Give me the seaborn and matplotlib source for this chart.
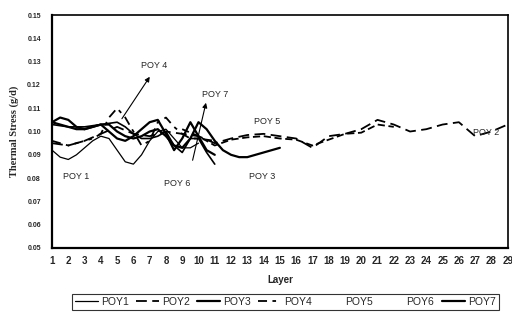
import pandas as pd
import matplotlib.pyplot as plt
import seaborn as sns

# thermal stress per layer
poy1_layer = [1, 1.5, 2, 2.5, 3, 3.5, 4, 4.5, 5, 5.5, 6, 6.5, 7, 7.5, 8, 8.5, 9, 9.5, 10]
poy1_stress = [0.092, 0.089, 0.088, 0.090, 0.093, 0.096, 0.098, 0.097, 0.092, 0.087, 0.086,
               0.090, 0.096, 0.100, 0.101, 0.097, 0.093, 0.093, 0.095]

poy2_layer = list(range(1, 30))
poy2_stress = [0.095, 0.094, 0.096, 0.099, 0.102, 0.099, 0.098, 0.100, 0.099, 0.098, 0.095,
               0.097, 0.0985, 0.099, 0.098, 0.097, 0.093, 0.098, 0.099, 0.101, 0.105, 0.103,
               0.100, 0.101, 0.103, 0.104, 0.098, 0.100, 0.103]

poy3_layer = [1, 1.5, 2, 2.5, 3, 3.5, 4, 4.5, 5, 5.5, 6, 6.5, 7, 7.5, 8, 8.5, 9, 9.5, 10,
              10.5, 11, 11.5, 12, 12.5, 13, 14, 15]
poy3_stress = [0.104, 0.103, 0.102, 0.101, 0.101, 0.102, 0.103, 0.103, 0.100, 0.098, 0.097,
               0.098, 0.100, 0.101, 0.098, 0.094, 0.093, 0.097, 0.104, 0.101, 0.096, 0.092,
               0.090, 0.089, 0.089, 0.091, 0.093]

poy4_layer = [1, 1.5, 2, 2.5, 3, 3.5, 4, 4.5, 5, 5.5, 6, 6.5, 7, 7.5, 8, 8.5, 9, 9.5, 10, 11]
poy4_stress = [0.096, 0.095, 0.094, 0.095, 0.096, 0.097, 0.099, 0.106, 0.110, 0.106, 0.100,
               0.094, 0.096, 0.104, 0.106, 0.102, 0.099, 0.097, 0.097, 0.096]

poy5_layer = [9, 10, 11, 12, 13, 14, 15, 16, 17, 18, 19, 20, 21, 22]
poy5_stress = [0.101, 0.098, 0.094, 0.0965, 0.0975, 0.098, 0.097, 0.0965, 0.094, 0.0965,
               0.099, 0.0995, 0.103, 0.102]

poy6_layer = [1, 2, 3, 4, 5, 5.5, 6, 6.5, 7, 7.5, 8, 8.5, 9, 9.5, 10, 10.5, 11]
poy6_stress = [0.103, 0.102, 0.102, 0.103, 0.104, 0.102, 0.099, 0.097, 0.097, 0.098, 0.100,
               0.094, 0.091, 0.097, 0.097, 0.091, 0.086]

poy7_layer = [1, 1.5, 2, 2.5, 3, 3.5, 4, 4.5, 5, 5.5, 6, 6.5, 7, 7.5, 8, 8.5, 9, 9.5, 10,
              10.5, 11]
poy7_stress = [0.104, 0.106, 0.105, 0.102, 0.101, 0.102, 0.103, 0.100, 0.097, 0.096, 0.098,
               0.101, 0.104, 0.105, 0.099, 0.092, 0.097, 0.104, 0.098, 0.092, 0.090]

series_names = ['POY1', 'POY2', 'POY3', 'POY4', 'POY5', 'POY6', 'POY7']
layers = [poy1_layer, poy2_layer, poy3_layer, poy4_layer, poy5_layer, poy6_layer, poy7_layer]
stresses = [poy1_stress, poy2_stress, poy3_stress, poy4_stress, poy5_stress, poy6_stress,
            poy7_stress]

frames = []
for name, x, y in zip(series_names, layers, stresses):
    frames.append(pd.DataFrame({'Layer': x, 'Stress': y, 'Series': name}))
df = pd.concat(frames, ignore_index=True)

sns.set_style('white')

fig = plt.figure(figsize=(5.12, 3.2), dpi=100)
ax = fig.add_axes([0.1016, 0.225, 0.89, 0.728])

dashes = {'POY1': '', 'POY2': (6, 3), 'POY3': '', 'POY4': (5, 3, 2, 3),
          'POY5': (4, 2), 'POY6': '', 'POY7': ''}
sizes = {'POY1': 0.9, 'POY2': 1.3, 'POY3': 1.6, 'POY4': 1.3,
         'POY5': 1.3, 'POY6': 1.2, 'POY7': 1.6}
sns.lineplot(data=df, x='Layer', y='Stress', hue='Series', style='Series', size='Series',
             palette=['black'] * 7, dashes=dashes, sizes=sizes, hue_order=series_names,
             style_order=series_names, size_order=series_names,
             estimator=None, sort=False, legend=False, ax=ax)

ax.set_xlim(1, 29)
ax.set_ylim(0.05, 0.15)
ax.set_xticks(range(1, 30))
ax.set_yticks([0.05 + 0.01 * i for i in range(11)])
ax.set_yticklabels(['%.2f' % (0.05 + 0.01 * i) for i in range(11)])
ax.tick_params(axis='x', direction='in', length=3, pad=6, labelsize=7)
ax.tick_params(axis='y', length=0, pad=8, labelsize=5)
for lab in ax.get_xticklabels() + ax.get_yticklabels():
    lab.set_fontweight('bold')
    lab.set_family('Liberation Sans')
for side in ['left', 'bottom', 'top', 'right']:
    ax.spines[side].set_color('black')
ax.spines['left'].set_linewidth(1.6)
ax.spines['bottom'].set_linewidth(1.6)
ax.spines['top'].set_linewidth(1.2)
ax.spines['right'].set_linewidth(1.2)

ax.set_xlabel('Layer', fontsize=7, family='Liberation Sans', fontweight='bold', labelpad=6)
ax.set_ylabel('Thermal Stress (g/d)', fontsize=7.5, family='Liberation Serif',
              fontweight='bold', labelpad=6)

# curve labels and arrows
lab_kw = dict(fontsize=6.5, family='Liberation Sans', ha='center', va='center')
ax.text(7.3, 0.1285, 'POY 4', **lab_kw)
ax.text(11.0, 0.116, 'POY 7', **lab_kw)
ax.text(14.2, 0.1045, 'POY 5', **lab_kw)
ax.text(27.7, 0.0995, 'POY 2', **lab_kw)
ax.text(2.5, 0.0805, 'POY 1', **lab_kw)
ax.text(8.7, 0.0775, 'POY 6', **lab_kw)
ax.text(13.9, 0.0805, 'POY 3', **lab_kw)
ax.annotate('', xy=(7.1, 0.1245), xytext=(5.2, 0.1045),
            arrowprops=dict(arrowstyle='-|>', color='black', lw=0.8, mutation_scale=7))
ax.annotate('', xy=(10.5, 0.1135), xytext=(9.6, 0.0865),
            arrowprops=dict(arrowstyle='-|>', color='black', lw=0.8, mutation_scale=7))

handles = ax.get_lines()[:7]
leg = fig.legend(handles, series_names, loc='center', bbox_to_anchor=(0.557, 0.056), ncol=7,
                 frameon=True, fancybox=False, edgecolor='black', handlelength=2.2,
                 handletextpad=0.3, columnspacing=0.7, borderpad=0.3,
                 prop={'family': 'Liberation Sans', 'size': 7.5})
leg.get_frame().set_linewidth(0.8)
# POY5 and POY6 samples were lost in the original print
leg.legend_handles[4].set_visible(False)
leg.legend_handles[5].set_visible(False)

fig.savefig('out.png', dpi=100)
